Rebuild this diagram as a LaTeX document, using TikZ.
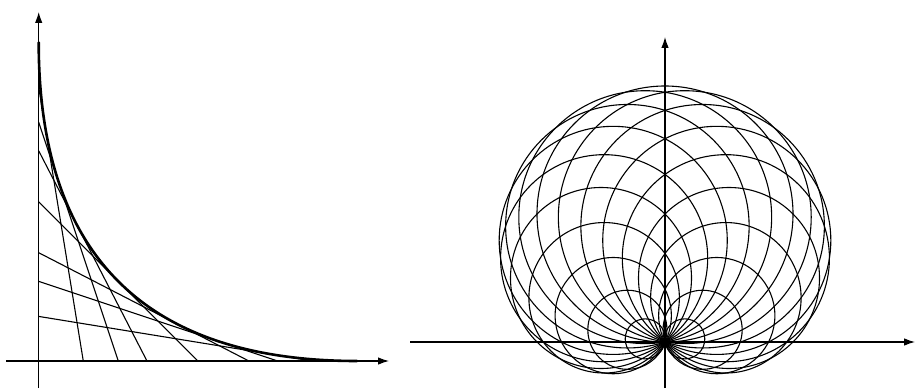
\documentclass[tikz,border=0pt]{standalone}
\usetikzlibrary{arrows.meta}
\begin{document}
\begin{tikzpicture}[x=1pt,y=1pt,
  axis/.style={line width=1.1pt,-{Latex[length=11pt,width=7.5pt]}},
  thin line/.style={line width=1.1pt},
  envelope/.style={line width=2.6pt,line cap=round}]
\useasboundingbox (0,0) rectangle (915,389);
% ---------- left figure ----------
\coordinate (O1) at (38.7,28);
\begin{scope}[shift={(O1)}]
  \def\L{318.5}
  \coordinate (xa0) at (-32.7,0);
  \coordinate (xa1) at (350.3,0);
  \coordinate (ya0) at (0,-27);
  \coordinate (ya1) at (0,349);
  \draw[axis] (xa0) -- (xa1);
  \draw[axis] (ya0) -- (ya1);
  \foreach \a in {0.14,0.25,0.34,0.5,0.66,0.75,0.86}{
    \coordinate (ly) at (0,{\a*\L});
    \coordinate (lx) at ({(1-\a)*\L},0);
    \draw[thin line] (ly) -- (lx);
  }
  \draw[envelope] plot[domain=0:1,samples=121,smooth] ({\x*\x*\L},{(1-\x)*(1-\x)*\L});
\end{scope}
% ---------- right figure ----------
\coordinate (O2) at (665,47);
\begin{scope}[shift={(O2)}]
  \def\A{64}
  \coordinate (xb0) at (-255,0);
  \coordinate (xb1) at (250,0);
  \coordinate (yb0) at (0,-46);
  \coordinate (yb1) at (0,305);
  \foreach \k in {0,...,14,16,17,18,19}{
    \pgfmathsetmacro\ph{18*\k}
    \pgfmathsetmacro\r{\A*sqrt(2+2*sin(\ph))}
    \coordinate (c) at ({\A*cos(\ph)},{\A+\A*sin(\ph)});
    \draw[thin line] (c) circle (\r);
  }
  \draw[axis] (xb0) -- (xb1);
  \draw[axis] (yb0) -- (yb1);
\end{scope}
\end{tikzpicture}
\end{document}
